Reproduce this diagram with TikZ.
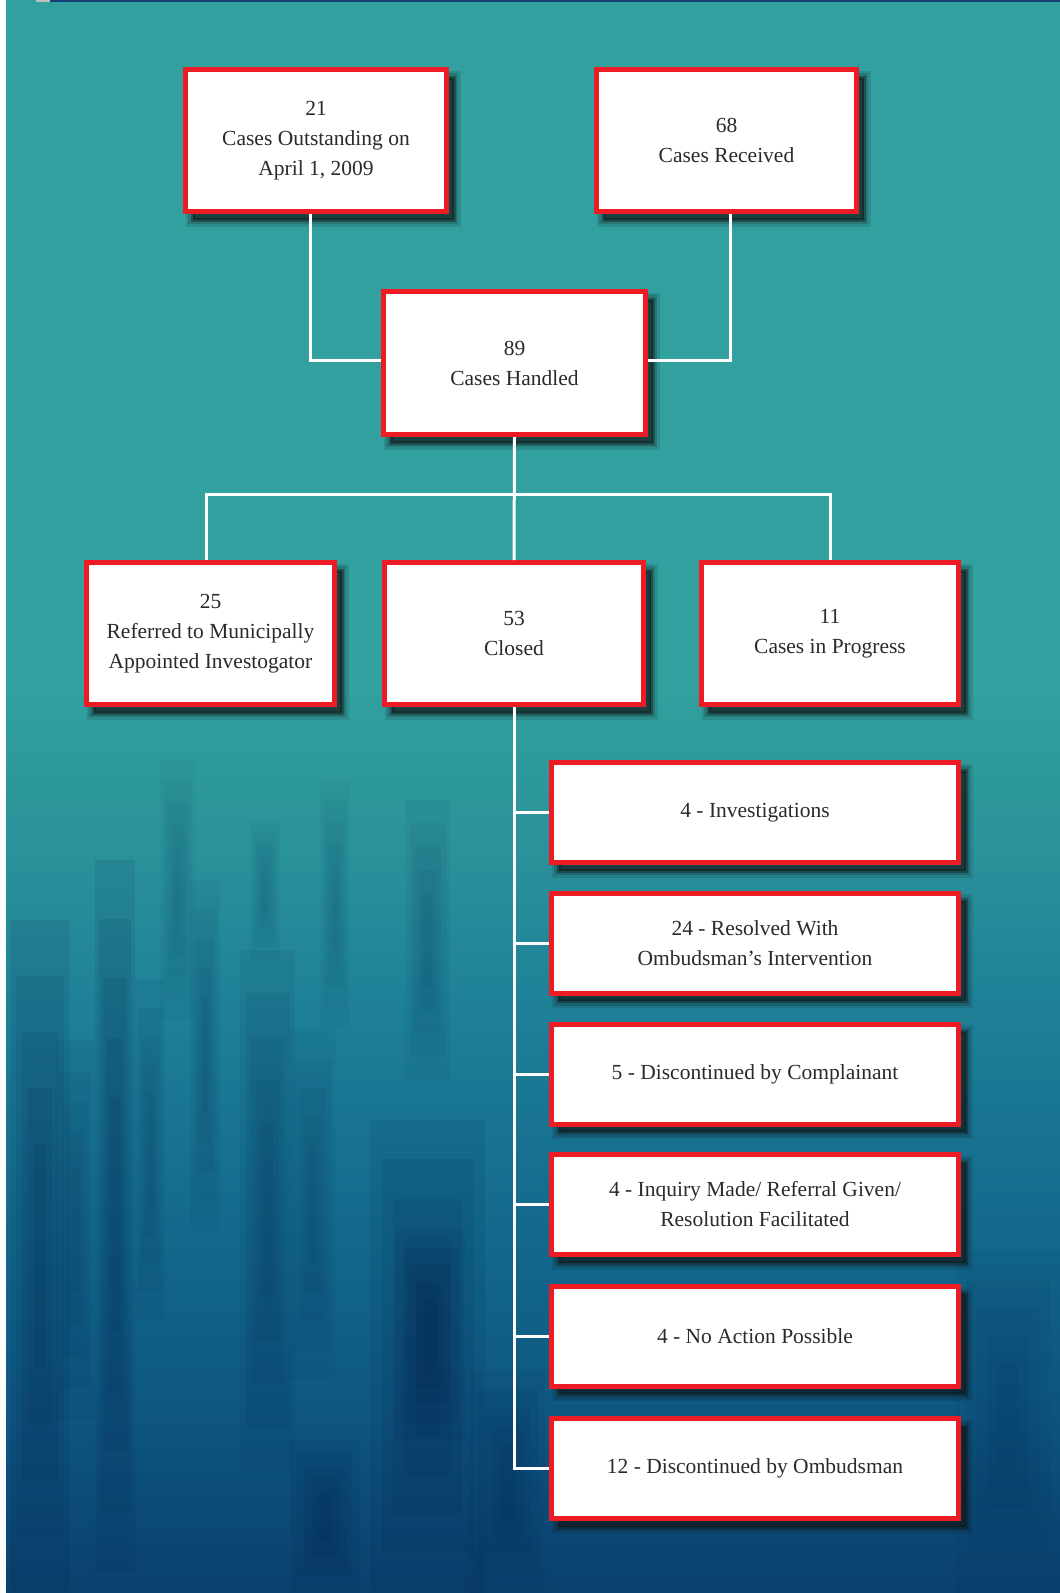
\documentclass[tikz,border=0pt]{standalone}
\usepackage{fontspec}
\setmainfont{Liberation Serif}
\usetikzlibrary{calc}
\definecolor{tealtop}{HTML}{31A09E}
\definecolor{boxred}{HTML}{ED1C24}
\definecolor{txt}{HTML}{2A2A2A}
\definecolor{navy}{HTML}{123E73}
\definecolor{sa}{HTML}{31A09E}
\definecolor{sb}{HTML}{2A929A}
\definecolor{sc}{HTML}{1F8198}
\definecolor{sd}{HTML}{146C8E}
\definecolor{se}{HTML}{0E5883}
\definecolor{sf}{HTML}{0A406E}
\definecolor{streak}{HTML}{04204A}
\definecolor{shadowc}{HTML}{101818}
\pgfdeclareverticalshading{bgshade}{100bp}{color(0bp)=(sf); color(25bp)=(sf); color(35.7bp)=(se); color(46.8bp)=(sd); color(57.9bp)=(sc); color(66.1bp)=(sb); color(75bp)=(sa); color(100bp)=(sa)}
\newcommand\softstreak[5]{%
  \foreach \k in {0,...,4}{%
    \fill[streak, opacity=#5/5] ({#1+\k*(#3-#1)/10},{#2+\k*(#4-#2)/12}) rectangle ({#3-\k*(#3-#1)/10},{#4-\k*(#4-#2)/12});
  }}
\begin{document}
\begin{tikzpicture}[x=1pt,y=-1pt,
  cbox/.style={draw=boxred, line width=5pt, fill=white, inner sep=0pt, align=center,
    font=\fontsize{21.5}{30}\selectfont, text=txt,
    preaction={draw=shadowc, fill=shadowc, line width=14pt, opacity=0.12, transform canvas={shift={(7pt,-8pt)}}},
    preaction={draw=shadowc, fill=shadowc, line width=9pt, opacity=0.2, transform canvas={shift={(7pt,-8pt)}}},
    preaction={draw=shadowc, fill=shadowc, line width=4pt, opacity=0.4, transform canvas={shift={(7pt,-8pt)}}}},
  connline/.style={draw=white, line width=3pt}]
\useasboundingbox (0,0) rectangle (1060,1593);
% background
\fill[white] (0,0) rectangle (1060,1593);
\fill[tealtop] (6,0) rectangle (1060,700);
\shade[shading=bgshade] (6,690) rectangle (1060,1593);
% soft texture streaks
\softstreak{10}{920}{70}{1593}{0.45}
\softstreak{55}{1040}{95}{1420}{0.3}
\softstreak{95}{860}{135}{1570}{0.45}
\softstreak{135}{980}{165}{1320}{0.25}
\softstreak{240}{950}{295}{1470}{0.35}
\softstreak{290}{1030}{335}{1380}{0.25}
\softstreak{370}{1120}{485}{1593}{0.45}
\softstreak{395}{1230}{465}{1440}{0.45}
\softstreak{290}{1440}{360}{1593}{0.4}
\softstreak{470}{1370}{545}{1593}{0.35}
\softstreak{190}{880}{220}{1230}{0.25}
\softstreak{160}{760}{195}{1020}{0.2}
\softstreak{320}{780}{350}{1030}{0.2}
\softstreak{405}{800}{450}{1080}{0.25}
\softstreak{250}{820}{280}{960}{0.2}
\softstreak{955}{1250}{1060}{1593}{0.25}
\fill[navy] (50,0) rectangle (1060,1.5);
\fill[gray!50] (36,0) rectangle (50,1.5);

% boxes
\node[cbox, minimum width=261pt, minimum height=142pt] (b21) at (316,140.5) {21\\Cases Outstanding on\\April 1, 2009};
\node[cbox, minimum width=260pt, minimum height=142pt] (b68) at (726.5,140.5) {68\\Cases Received};
\node[cbox, minimum width=262pt, minimum height=143pt] (b89) at (514.5,363) {89\\Cases Handled};
\node[cbox, minimum width=248pt, minimum height=142pt] (b25) at (210.5,633.5) {25\\Referred to Municipally\\Appointed Investogator};
\node[cbox, minimum width=259pt, minimum height=142pt] (b53) at (514,633.5) {53\\Closed};
\node[cbox, minimum width=257pt, minimum height=142pt] (b11) at (830,633.5) {11\\Cases in Progress};
\node[cbox, minimum width=407pt, minimum height=100pt] (r1) at (755,812.5) {4 - Investigations};
\node[cbox, minimum width=407pt, minimum height=100pt] (r2) at (755,943) {24 - Resolved With\\Ombudsman’s Intervention};
\node[cbox, minimum width=407pt, minimum height=100pt] (r3) at (755,1074) {5 - Discontinued by Complainant};
\node[cbox, minimum width=407pt, minimum height=100pt] (r4) at (755,1204.5) {4 - Inquiry Made/ Referral Given/\\Resolution Facilitated};
\node[cbox, minimum width=407pt, minimum height=100pt] (r5) at (755,1336) {4 - No Action Possible};
\node[cbox, minimum width=407pt, minimum height=100pt] (r6) at (755,1468.5) {12 - Discontinued by Ombudsman};

% connectors
\coordinate (j) at (514,494);
\draw[connline] ([xshift=-6pt]b21.south) |- ([yshift=3pt]b89.west);
\draw[connline] ([xshift=3.5pt]b68.south) |- ([yshift=3pt]b89.east);
\draw[connline] (b89.south) -- (b53.north);
\draw[connline] ([xshift=-4.5pt]b25.north) |- (j) -| (b11.north);
\draw[connline] (b53.south) |- (r6.west);
\foreach \r in {r1,r2,r3,r4,r5}
  \draw[connline] (b53.south |- \r.west) -- (\r.west);
\end{tikzpicture}
\end{document}
